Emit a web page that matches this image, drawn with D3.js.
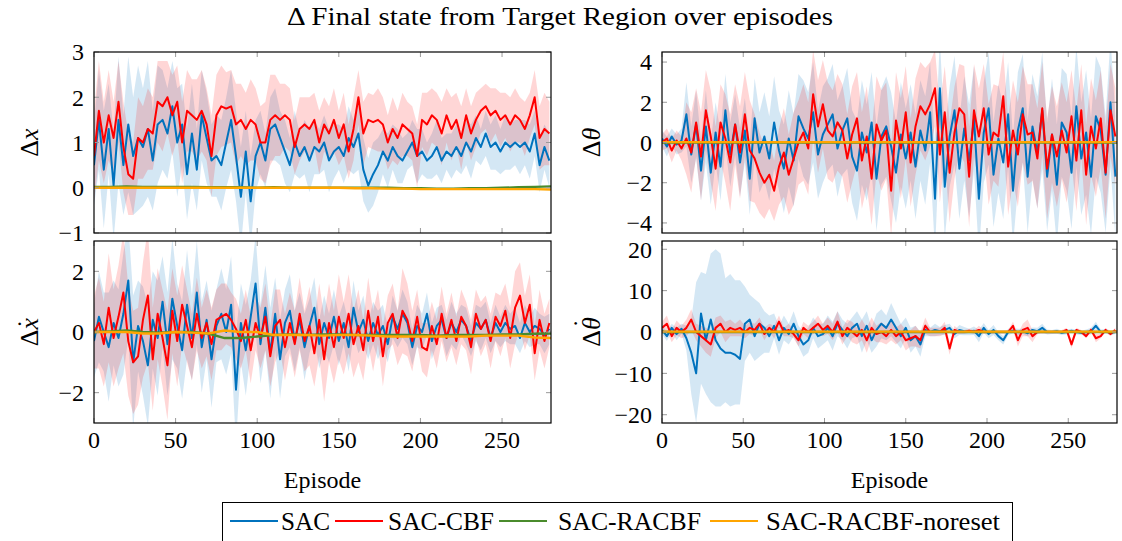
<!DOCTYPE html>
<html><head><meta charset="utf-8">
<script src="https://cdn.jsdelivr.net/npm/d3@7"></script>
<style>
html,body{margin:0;padding:0;background:#fff;}
svg{display:block;}
text{font-family:"Liberation Serif","Times New Roman",serif;fill:#000;}
</style></head>
<body>
<svg id="chart" width="1122" height="541"></svg>
<script>
// ---------- DATA ----------
const seriesNames = ["SAC", "SAC-CBF", "SAC-RACBF", "SAC-RACBF-noreset"];
const episodes = d3.range(0, 280, 3);      // samples of SAC / SAC-CBF
const episodesSmooth = d3.range(0, 281, 10); // samples of RACBF variants

// Panel Δx
const dxSacMean = [0.5,1.5,0.4,1.3,0.05,1.5,0.5,1.4,0.7,1.1, 0.9,1.3,0.6,1.4,1.5,1.2,1.8,1.0,1.4,0.3, 1.2,0.4,1.6,1.1,0.6,0.7,0.5,1.0,1.5,0.7, -0.2,0.8,-0.3,0.7,1.0,0.6,1.3,1.4,1.1,0.8, 0.5,1.0,0.7,0.9,0.6,0.9,0.8,1.0,0.6,0.8, 0.9,0.7,1.1,0.9,1.2,0.4,0.05,0.3,0.5,0.8, 0.6,0.9,0.7,0.6,0.8,1.0,0.7,0.8,0.6,0.7, 0.9,0.6,0.8,0.7,0.9,0.7,1.0,0.8,1.1,0.9, 1.2,0.9,1.0,0.8,1.0,0.9,1.0,0.9,1.0,0.8, 1.2,0.5,0.9,0.6];
const dxSacStd = [0.9,1.1,1.3,1.0,1.2,1.4,1.1,1.5,1.3,1.6, 1.3,1.5,1.1,1.3,1.1,1.0,1.0,1.2,0.9,1.0, 1.1,0.9,1.0,1.0,0.8,0.9,1.0,1.0,1.1,1.0, 1.1,0.9,1.0,0.8,0.7,0.6,0.7,0.8,0.6,0.7, 0.6,0.7,0.5,0.6,0.7,0.6,0.5,0.6,0.7,0.6, 0.5,0.6,0.7,0.6,0.8,0.7,0.6,0.7,0.6,0.5, 0.6,0.5,0.6,0.5,0.4,0.5,0.6,0.5,0.4,0.5, 0.6,0.5,0.4,0.5,0.5,0.4,0.5,0.6,0.5,0.4, 0.5,0.5,0.6,0.5,0.6,0.5,0.5,0.6,0.5,0.6, 0.5,0.6,0.5,0.6];
const dxCbfMean = [0.7,1.7,1.0,1.6,1.1,1.9,0.9,0.3,0.2,1.1, 1.0,1.3,1.2,1.9,1.8,2.0,1.6,1.9,1.0,1.7, 1.6,1.5,1.7,1.4,0.7,1.6,1.8,1.75,1.8,1.4, 1.5,1.3,1.5,1.4,1.0,1.0,1.5,1.6,1.5,1.6, 1.5,0.9,1.3,1.4,1.3,1.5,1.0,1.4,1.2,1.5, 1.1,1.4,0.8,1.3,2.0,1.2,1.5,1.45,1.5,1.4, 1.0,1.3,1.1,1.4,1.3,1.2,0.7,1.5,1.4,1.6, 1.5,1.2,1.6,1.3,1.5,1.1,1.6,1.2,1.5,1.7, 1.8,1.6,1.7,1.5,1.6,1.4,1.6,1.5,1.3,1.6, 2.0,1.1,1.3,1.2];
const dxCbfStd = [1.0,1.1,0.9,1.0,0.8,0.9,1.0,0.9,0.8,0.9, 0.8,0.9,0.8,0.9,1.0,0.8,0.9,0.8,0.9,0.9, 0.8,0.9,0.9,0.8,0.9,0.9,0.9,0.8,0.8,0.9, 0.8,0.8,0.9,0.8,0.8,0.9,1.0,0.9,0.8,0.7, 0.7,0.6,0.7,0.6,0.7,0.6,0.7,0.6,0.6,0.7, 0.6,0.7,0.6,0.7,0.6,0.7,0.6,0.6,0.7,0.6, 0.6,0.7,0.6,0.7,0.6,0.6,0.7,0.6,0.7,0.6, 0.6,0.7,0.6,0.7,0.6,0.7,0.6,0.6,0.6,0.5, 0.5,0.6,0.5,0.6,0.5,0.6,0.6,0.5,0.6,0.5, 0.6,0.7,0.8,0.7];
const dxRacbf = [0.02,0.02,0.03,0.02,0.02,0.02,0.02,0.01,0.01,0.01,0.0,0.01,0.0,0.0,0.0,0.0,0.0,0.0,0.0,-0.01,-0.01,-0.02,-0.02,-0.01,-0.01,0.0,0.01,0.02,0.03];
const dxNoreset = [0.0,0.0,0.0,0.0,0.0,0.0,0.0,0.0,0.0,0.0,0.0,0.0,0.0,0.0,0.0,0.0,-0.01,-0.01,-0.02,-0.02,-0.03,-0.03,-0.03,-0.03,-0.03,-0.03,-0.03,-0.03,-0.04];

// Panel Δẋ
const dvSacMean = [-0.3,0.5,0.0,-0.5,0.3,-0.2,0.6,1.7,-1.0,0.2, -0.3,-1.1,0.4,-0.2,1.0,-0.4,1.1,0.2,-0.6,0.9, -0.2,1.3,-0.5,0.4,-0.9,0.2,0.6,0.0,0.9,-1.9, 0.3,-0.6,0.5,1.6,-0.4,0.8,-0.7,0.6,-0.9,0.3, 0.7,-0.3,0.4,-0.5,0.2,0.8,-0.4,0.3,-0.2,0.5, -0.3,0.3,-0.5,0.8,0.0,0.4,-0.3,0.3,-0.1,0.2, -0.4,0.5,0.1,0.6,0.3,-0.5,0.2,0.0,0.6,-0.3, 0.2,0.4,-0.2,0.3,0.0,0.4,0.2,-0.3,0.3,0.1, 0.4,-0.2,0.3,0.0,0.3,0.1,0.2,-0.2,0.3,0.0, 0.2,0.1,-0.1,0.1];
const dvSacStd = [1.2,1.5,1.3,1.8,1.4,1.6,2.0,1.9,2.2,1.5, 1.8,2.0,1.6,1.9,1.5,1.7,2.0,1.4,1.6,1.8, 1.4,1.7,1.5,1.3,1.6,1.2,1.5,1.4,1.6,1.8, 1.3,1.5,1.2,1.6,1.3,1.4,1.5,1.2,1.3,1.1, 1.2,1.0,0.9,1.1,0.9,1.0,0.8,0.9,0.8,0.9, 0.8,0.7,0.8,0.9,0.7,0.8,0.6,0.7,0.8,0.7, 0.6,0.7,0.6,0.8,0.7,0.6,0.7,0.6,0.7,0.6, 0.6,0.5,0.6,0.7,0.6,0.5,0.6,0.5,0.6,0.7, 0.6,0.5,0.6,0.5,0.6,0.5,0.6,0.5,0.6,0.5, 0.6,0.5,0.6,0.5];
const dvCbfMean = [0.0,0.3,-0.4,0.8,-0.2,0.5,1.3,-0.3,-1.0,-0.8, 0.4,1.2,-0.9,0.6,-0.2,-1.1,0.7,-0.3,0.9,0.2, -0.5,0.6,-0.2,0.3,-0.4,0.4,0.5,0.6,0.4,0.1, -0.3,0.4,-0.6,0.3,-0.2,0.5,-0.8,0.2,0.4,-0.5, 0.3,-0.4,0.6,-0.3,0.2,-0.7,0.4,-0.9,0.3,-0.5, 0.5,-0.2,0.6,-0.4,0.2,-0.6,0.7,-0.3,0.5,-0.8, 0.3,0.6,-0.2,0.7,0.4,-0.3,0.5,-0.5,-0.6,0.2, -0.4,0.6,-0.2,0.4,-0.3,0.5,0.2,-0.5,0.6,0.1, 0.4,-0.3,0.5,0.2,0.7,-0.2,0.8,1.2,0.3,0.9, -0.7,0.4,-0.3,0.3];
const dvCbfStd = [1.2,1.5,1.4,1.8,1.6,1.7,2.0,1.8,1.7,1.6, 1.9,2.2,1.7,1.5,1.6,1.8,1.4,1.5,1.3,1.2, 1.1,1.2,1.0,1.1,1.2,1.0,1.1,1.0,0.9,1.0, 0.9,1.0,1.1,0.9,1.0,1.1,1.0,1.2,1.0,1.1, 1.0,1.1,1.2,1.0,1.3,1.1,1.2,1.4,1.3,1.2, 1.4,1.2,1.3,1.1,1.2,1.0,1.1,1.0,0.9,1.0, 0.9,1.0,0.9,1.4,1.2,1.0,0.9,0.8,0.9,0.8, 0.8,0.9,0.8,0.9,0.8,0.9,0.8,0.9,0.8,0.9, 0.8,0.9,0.8,1.0,0.9,1.0,1.2,1.1,0.9,1.0, 0.9,1.0,0.9,0.8];
const dvRacbf = [0.0,0.02,0.05,0.0,-0.02,0.0,0.0,-0.05,-0.2,-0.2,-0.15,-0.1,-0.08,-0.1,-0.08,-0.08,-0.1,-0.1,-0.1,-0.1,-0.1,-0.12,-0.1,-0.1,-0.1,-0.08,-0.08,-0.06,-0.05];
const dvNoreset = [0.0,0.0,0.0,-0.05,-0.05,0.0,-0.02,-0.05,0.05,0.0,0.0,-0.1,-0.1,-0.1,-0.12,-0.1,-0.1,-0.12,-0.15,-0.15,-0.15,-0.15,-0.15,-0.15,-0.12,-0.12,-0.12,-0.18,-0.2];

// Panel Δθ
const dthSacMean = [0.2,-0.2,0.3,-0.1,0.1,1.4,-0.6,0.9,-1.4,0.8, -1.5,0.5,-1.2,1.6,-0.6,0.9,-1.0,0.6,-1.8,1.2, -0.5,0.3,-0.8,1.0,-0.4,-1.3,0.2,-0.9,1.3,0.7, 0.2,1.5,-0.6,0.4,0.9,1.4,-0.3,0.6,1.2,-0.7, -1.4,0.5,-0.5,1.0,-1.8,0.3,0.8,-0.2,-1.5,0.4, -0.8,0.5,-1.2,0.6,-0.4,1.5,-2.8,2.7,-2.2,0.3, 1.6,-1.3,0.7,-0.9,1.2,-2.8,0.5,1.7,-1.6,0.2, -1.0,1.4,-2.4,0.6,1.7,-1.7,0.8,-0.5,1.6,-1.7, 0.4,-2.1,1.0,0.5,-1.5,1.8,-0.8,0.5,-1.7,1.3, 0.6,-1.6,2.0,-1.7];
const dthSacStd = [0.4,0.5,0.4,0.5,0.6,1.6,1.4,1.7,1.5,1.8, 1.6,1.5,1.7,1.8,1.6,1.5,1.7,1.6,1.8,2.0, 2.0,2.2,2.1,2.3,2.0,2.2,2.4,2.3,2.1,2.4, 2.3,2.5,2.2,2.4,2.3,2.5,2.4,2.2,2.5,2.3, 2.5,2.6,2.4,2.5,2.6,2.4,2.5,2.7,2.5,2.6, 2.5,2.4,2.6,2.5,2.7,2.5,2.6,2.4,2.6,2.5, 2.7,2.5,2.6,2.8,2.6,2.7,2.5,2.8,2.6,2.7, 2.8,2.6,2.7,2.9,2.7,2.8,2.6,2.8,2.9,2.7, 2.8,3.0,2.7,2.9,2.8,3.0,2.8,3.1,2.9,3.0, 3.1,2.9,3.2,3.0];
const dthCbfMean = [0.0,0.2,-0.4,0.1,-0.3,0.2,-0.5,1.0,-0.7,1.6, 0.3,-1.3,1.0,0.2,-1.0,0.9,-0.5,1.4,-0.4,-0.8, -1.5,-2.0,-1.6,-2.4,-1.2,-0.5,-1.6,-0.8,0.0,0.5, -0.3,2.4,0.8,1.9,0.6,0.3,1.0,0.6,-0.8,0.4, 1.2,-0.9,0.3,-1.8,0.9,0.1,0.6,-2.4,1.1,-0.3, 1.5,-1.0,0.8,1.8,1.4,1.9,2.7,-0.6,1.5,-1.5, 0.5,1.7,1.4,-1.7,1.6,0.3,1.7,-0.6,0.5,0.3, 2.3,-1.2,0.6,-0.6,1.4,0.4,0.5,-0.8,1.7,-1.3, 0.4,-0.7,0.6,-0.5,1.3,-0.9,1.6,-1.6,0.8,-0.3, 1.2,-1.5,1.6,0.3];
const dthCbfStd = [0.4,0.5,0.6,0.5,0.6,1.8,2.0,1.7,2.2,2.0, 2.3,2.1,1.9,2.2,2.4,2.0,2.3,2.1,2.5,2.2, 2.0,1.8,1.7,1.5,1.9,2.2,2.0,2.3,2.1,2.4, 2.3,2.2,2.3,2.2,2.4,2.3,2.4,2.3,2.2,2.4, 2.3,2.4,2.5,2.3,2.4,2.5,2.4,2.3,2.4,2.5, 2.3,2.2,2.4,2.2,2.3,2.1,1.9,2.4,2.3,2.5, 2.3,2.2,2.4,2.5,2.3,2.4,2.2,2.5,2.4,2.5, 2.2,2.4,2.5,2.6,2.4,2.5,2.4,2.5,2.3,2.5, 2.4,2.5,2.4,2.5,2.3,2.5,2.3,2.5,2.4,2.4, 2.4,2.3,2.3,2.4];
const dthRacbf = [0,0,0,0,0,0,0,0,0,0,0,0,0,0,0,0,0,0,0,0,0,0,0,0,0,0,0,0,0];
const dthNoreset = [0.02,0.02,0.02,0.02,0.02,0.02,0.02,0.02,0.02,0.02,0.02,0.02,0.02,0.02,0.02,0.02,0.02,0.02,0.02,0.02,0.02,0.02,0.02,0.02,0.02,0.02,0.02,0.02,0.02];

// Panel Δθ̇
const dwSacMean = [0.5,-1.0,1.0,-0.5,0.8,-1.5,-5.0,-10.0,4.5,-2.0, 3.0,-2.0,-4.0,-5.0,-5.0,-5.5,-6.5,2.0,3.0,-1.0, 2.0,1.0,-1.0,1.5,-2.0,1.0,-0.5,2.0,-1.0,-3.0, -2.0,1.0,-1.0,-0.5,1.0,-1.0,2.0,0.5,-1.0,1.0, 2.0,-1.0,1.5,-2.0,0.5,2.0,1.0,3.0,1.0,-1.0, 1.0,-2.0,-1.0,-3.0,0.5,0.0,0.5,0.2,0.5,1.0, -0.5,0.5,0.2,0.0,0.3,-1.0,1.0,-0.5,0.5,-1.0, -2.0,0.0,0.3,0.0,0.2,-0.3,0.5,0.2,1.0,0.0, 0.0,0.2,-0.2,0.0,0.3,0.0,-0.2,0.0,0.2,1.5, 0.0,0.2,-0.2,0.0];
const dwSacUp = [1.0,1.2,1.0,1.5,1.2,3.0,8,22,10,16, 16,22,23,18,19,18,19,9,6,9, 5,4,5,3,3.5,3,2.5,3,2.5,3, 3,2.5,3,2.5,3,3.5,3,2.5,3,2.5, 3,4,3.5,3,4,3.5,3,4,3.5,3, 2.5,3,2.5,3,1.5,1.0,1.5,1.0,1.2,1.0, 1.0,1.2,1.0,0.8,1.0,1.5,1.2,1.0,1.2,1.0, 1.0,0.8,0.6,0.8,0.6,0.8,0.6,0.8,1.0,0.6, 0.5,0.6,0.5,0.6,0.5,0.6,0.5,0.6,0.8,1.0, 0.6,0.5,0.6,0.5];
const dwSacDown = [1.0,1.2,1.0,1.5,1.2,3.0,10,12,17,13, 20,16,14,12,13,12,11,9,8,6, 8,6,4,3,3.5,3,2.5,3,2.5,3, 3,2.5,3,2.5,3,3.5,3,2.5,3,2.5, 3,4,3.5,3,4,3.5,3,4,3.5,3, 2.5,3,2.5,3,1.5,1.0,1.5,1.0,1.2,1.0, 1.0,1.2,1.0,0.8,1.0,1.5,1.2,1.0,1.2,1.0, 1.0,0.8,0.6,0.8,0.6,0.8,0.6,0.8,1.0,0.6, 0.5,0.6,0.5,0.6,0.5,0.6,0.5,0.6,0.8,1.0, 0.6,0.5,0.6,0.5];
const dwCbfMean = [1.0,2.0,-1.0,1.0,0.0,1.0,3.0,0.0,-1.0,-2.0, -3.0,1.0,2.0,0.0,1.0,0.5,1.0,0.0,1.0,0.5, 2.0,-0.5,1.0,0.0,2.5,0.0,0.5,-0.5,-2.0,1.0, 0.0,1.0,2.0,0.5,1.5,0.0,2.5,-1.0,1.0,0.0, -1.0,0.5,-2.0,1.0,-0.5,0.0,-1.0,0.5,-1.0,0.0, -2.0,-1.5,-1.0,-2.0,1.5,0.0,0.0,0.0,1.0,-4.0, 0.5,0.0,0.0,0.3,0.0,0.5,0.0,0.0,0.0,0.0, 0.0,0.0,1.5,-2.0,0.5,1.0,-1.0,0.0,0.0,0.0, 0.0,0.0,0.0,0.5,-3.0,0.5,0.0,-1.0,0.5,-1.5, -1.0,0.5,-0.5,0.5];
const dwCbfStd = [1.5,2.0,1.5,1.8,1.5,2.0,2.5,2.0,2.5,3.0, 3.0,2.5,2.0,2.5,2.0,1.5,2.0,1.5,1.5,1.5, 1.5,1.5,1.0,1.5,1.5,1.0,1.5,1.0,1.5,1.5, 1.5,1.5,2.0,1.5,2.0,2.0,2.5,2.0,2.0,2.5, 2.0,2.5,3.0,2.5,2.0,2.5,2.0,2.5,2.0,2.0, 2.5,2.0,2.5,2.0,2.0,1.0,1.0,1.0,1.5,1.5, 1.0,0.5,0.5,0.5,0.5,1.0,0.5,0.5,0.5,0.5, 0.5,0.5,1.0,1.5,1.5,2.0,1.5,0.5,0.5,0.5, 0.5,0.5,0.5,0.5,1.0,0.5,0.5,0.5,0.5,1.0, 0.5,0.5,0.5,0.5];
const dwRacbf = [0,0,0,0,0,0,0,0,0,0,0,0,0,0,0,0,0,0,0,0,0,0,0,0,0,0,0,0,0];
const dwNoreset = [0.1,0.1,0.1,0.1,0.1,0.1,0.1,0.1,0.1,0.1,0.1,0.1,0.1,0.1,0.1,0.1,0.1,0.1,0.1,0.1,0.1,0.1,0.1,0.1,0.1,0.1,0.1,0.1,0.1];

// Axis ticks
const xTicks = [0, 50, 100, 150, 200, 250];
const yTicksDx = [-1, 0, 1, 2, 3];
const yTicksDv = [-2, 0, 2];
const yTicksDth = [-4, -2, 0, 2, 4];
const yTicksDw = [-20, -10, 0, 10, 20];

// ---------- STYLE ----------
const colors = {SAC: "#0072bd", CBF: "#ff0000", RACBF: "#4a8b2c", NORESET: "#ffa500"};
const svg = d3.select("#chart");

svg.append("text").attr("x", 560).attr("y", 25).attr("text-anchor", "middle")
  .attr("font-size", 26).attr("textLength", 546).attr("lengthAdjust", "spacingAndGlyphs")
  .text("Δ Final state from Target Region over episodes");

let clipId = 0;
function panel(opt) {
  const {x0, x1, y0, y1, yDomain, yTicks, data, showX, label, dotDy, labelX} = opt;
  const x = d3.scaleLinear().domain([0, 280]).range([x0, x1]);
  const y = d3.scaleLinear().domain(yDomain).range([y1, y0]);
  const g = svg.append("g");
  const id = "clip" + (clipId++);
  svg.append("defs").append("clipPath").attr("id", id)
    .append("rect").attr("x", x0).attr("y", y0).attr("width", x1 - x0).attr("height", y1 - y0);
  const plot = g.append("g").attr("clip-path", `url(#${id})`);

  const bands = [
    {mean: data.sacMean, up: data.sacUp || data.sacStd, down: data.sacDown || data.sacStd, color: colors.SAC, op: 0.17},
    {mean: data.cbfMean, up: data.cbfStd, down: data.cbfStd, color: colors.CBF, op: 0.16}
  ];
  bands.forEach(b => {
    const n = Math.min(b.mean.length, b.up.length, b.down.length, episodes.length);
    const pts = d3.range(n).map(i => ({e: episodes[i], m: b.mean[i], u: b.up[i], d: b.down[i]}));
    const area = d3.area().x(d => x(d.e)).y0(d => y(d.m - d.d)).y1(d => y(d.m + d.u));
    plot.append("path").datum(pts).attr("d", area).attr("fill", b.color).attr("fill-opacity", b.op);
  });
  const lineMain = d3.line().x(d => x(d.e)).y(d => y(d.v));
  [[data.sacMean, colors.SAC], [data.cbfMean, colors.CBF]].forEach(([arr, c]) => {
    const pts = arr.slice(0, episodes.length).map((v, i) => ({e: episodes[i], v}));
    plot.append("path").datum(pts).attr("d", lineMain).attr("fill", "none")
      .attr("stroke", c).attr("stroke-width", 2).attr("stroke-linejoin", "round");
  });
  [[data.racbf, colors.RACBF], [data.noreset, colors.NORESET]].forEach(([arr, c]) => {
    const pts = arr.slice(0, episodesSmooth.length).map((v, i) => ({e: episodesSmooth[i], v}));
    plot.append("path").datum(pts).attr("d", lineMain).attr("fill", "none")
      .attr("stroke", c).attr("stroke-width", 2.4);
  });

  // ticks (inside, grey, on all sides)
  const tg = g.append("g").attr("stroke", "#9a9a9a").attr("stroke-width", 1);
  xTicks.forEach(t => {
    tg.append("line").attr("x1", x(t)).attr("x2", x(t)).attr("y1", y1).attr("y2", y1 - 5);
    tg.append("line").attr("x1", x(t)).attr("x2", x(t)).attr("y1", y0).attr("y2", y0 + 5);
  });
  yTicks.forEach(t => {
    tg.append("line").attr("x1", x0).attr("x2", x0 + 5).attr("y1", y(t)).attr("y2", y(t));
    tg.append("line").attr("x1", x1).attr("x2", x1 - 5).attr("y1", y(t)).attr("y2", y(t));
  });
  g.append("rect").attr("x", x0).attr("y", y0).attr("width", x1 - x0).attr("height", y1 - y0)
    .attr("fill", "none").attr("stroke", "#000").attr("stroke-width", 1.2);

  const fmt = v => (v < 0 ? "\u2212" + Math.abs(v) : String(v));
  yTicks.forEach(t => {
    g.append("text").attr("x", x0 - 10).attr("y", y(t)).attr("dy", "0.35em")
      .attr("text-anchor", "end").attr("font-size", 24).text(fmt(t));
  });
  if (showX) {
    xTicks.forEach(t => {
      g.append("text").attr("x", x(t)).attr("y", y1 + 25).attr("text-anchor", "middle")
        .attr("font-size", 24).text(fmt(t));
    });
    g.append("text").attr("x", (x0 + x1) / 2).attr("y", y1 + 65).attr("text-anchor", "middle")
      .attr("font-size", 24).text("Episode");
  }
  const ly = (y0 + y1) / 2;
  const lt = g.append("text").attr("transform", `translate(${labelX},${ly}) rotate(-90)`)
    .attr("text-anchor", "middle").attr("font-size", 26);
  lt.append("tspan").text("Δ");
  lt.append("tspan").attr("font-style", "italic").text(label);
  if (dotDy) {
    lt.append("tspan").attr("dx", "-0.40em").attr("dy", dotDy).text("\u02D9");
  }
}

const LX0 = 94, LX1 = 551, RX0 = 662, RX1 = 1117;
const TY0 = 52, TY1 = 233, BY0 = 241, BY1 = 423;

panel({x0: LX0, x1: LX1, y0: TY0, y1: TY1, yDomain: [-1, 3], yTicks: yTicksDx, showX: false,
  label: "x", dotDy: null, labelX: 38,
  data: {sacMean: dxSacMean, sacStd: dxSacStd, cbfMean: dxCbfMean, cbfStd: dxCbfStd, racbf: dxRacbf, noreset: dxNoreset}});
panel({x0: LX0, x1: LX1, y0: BY0, y1: BY1, yDomain: [-3, 3], yTicks: yTicksDv, showX: true,
  label: "x", dotDy: "-0.12em", labelX: 38,
  data: {sacMean: dvSacMean, sacStd: dvSacStd, cbfMean: dvCbfMean, cbfStd: dvCbfStd, racbf: dvRacbf, noreset: dvNoreset}});
panel({x0: RX0, x1: RX1, y0: TY0, y1: TY1, yDomain: [-4.5, 4.5], yTicks: yTicksDth, showX: false,
  label: "θ", dotDy: null, labelX: 600,
  data: {sacMean: dthSacMean, sacStd: dthSacStd, cbfMean: dthCbfMean, cbfStd: dthCbfStd, racbf: dthRacbf, noreset: dthNoreset}});
panel({x0: RX0, x1: RX1, y0: BY0, y1: BY1, yDomain: [-22, 22], yTicks: yTicksDw, showX: true,
  label: "θ", dotDy: "-0.36em", labelX: 600,
  data: {sacMean: dwSacMean, sacUp: dwSacUp, sacDown: dwSacDown, cbfMean: dwCbfMean, cbfStd: dwCbfStd, racbf: dwRacbf, noreset: dwNoreset}});

// ---------- LEGEND ----------
const legend = svg.append("g");
legend.append("rect").attr("x", 222.5).attr("y", 502.5).attr("width", 790).attr("height", 60)
  .attr("fill", "#fff").attr("stroke", "#000").attr("stroke-width", 1);
const legendItems = [
  {name: seriesNames[0], color: colors.SAC, lx: 230, tx: 281, tw: 49},
  {name: seriesNames[1], color: colors.CBF, lx: 335, tx: 388, tw: 106},
  {name: seriesNames[2], color: colors.RACBF, lx: 499, tx: 558, tw: 143},
  {name: seriesNames[3], color: colors.NORESET, lx: 710, tx: 766, tw: 234}
];
legendItems.forEach(it => {
  legend.append("line").attr("x1", it.lx).attr("x2", it.lx + 48).attr("y1", 521).attr("y2", 521)
    .attr("stroke", it.color).attr("stroke-width", 2);
  legend.append("text").attr("x", it.tx).attr("y", 530).attr("font-size", 26)
    .attr("textLength", it.tw).attr("lengthAdjust", "spacingAndGlyphs").text(it.name);
});
</script>
</body></html>
